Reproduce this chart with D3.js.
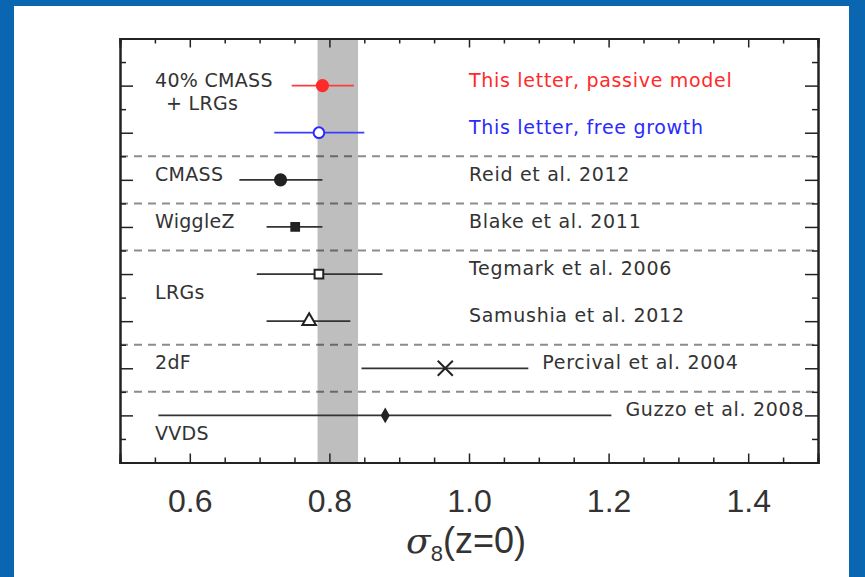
<!DOCTYPE html>
<html>
<head>
<meta charset="utf-8">
<script src="https://cdn.jsdelivr.net/npm/d3@7"></script>
<style>
  html, body { margin: 0; padding: 0; background: #0a66b0; }
  svg { display: block; }
</style>
</head>
<body>
<svg id="chart" width="865" height="577"></svg>
<script>
// ---- data ----
const rowLabels = ["This letter, passive model", "This letter, free growth", "Reid et al. 2012",
  "Blake et al. 2011", "Tegmark et al. 2006", "Samushia et al. 2012", "Percival et al. 2004", "Guzzo et al. 2008"];
const rows = [1, 2, 3, 4, 5, 6, 7, 8];
const sigma8 = [0.790, 0.785, 0.730, 0.751, 0.785, 0.771, 0.966, 0.880];
const errLow = [0.746, 0.721, 0.671, 0.710, 0.696, 0.710, 0.846, 0.555];
const errHigh = [0.835, 0.850, 0.790, 0.790, 0.876, 0.830, 1.085, 1.204];
const markerKinds = ["filledCircle", "openCircle", "filledCircle", "filledSquare", "openSquare", "openTriangle", "times", "diamond"];
const sampleNames = ["40% CMASS", "+ LRGs", "CMASS", "WiggleZ", "LRGs", "2dF", "VVDS"];
const sampleRows = [1, 1.5, 3, 4, 5.5, 7, 8.5];
const separatorRows = [2.5, 3.5, 4.5, 6.5, 7.5];
const bandRange = [0.783, 0.841];
const xTickValues = [0.6, 0.8, 1.0, 1.2, 1.4];
const xLabel = "z=0";
const labelColumn = 1.0;

// ---- styling ----
const rowColors = ["#ff2a2a", "#2a2aff", "#222", "#222", "#222", "#222", "#222", "#222"];
const lineColors = ["#ff3c3c", "#3c3cff", "#333", "#333", "#333", "#333", "#333", "#333"];
const textFont = "DejaVu Sans, sans-serif";

const svg = d3.select("#chart");
svg.append("rect").attr("x", 14).attr("y", 6).attr("width", 835).attr("height", 571).attr("fill", "#fff");

const x = d3.scaleLinear().domain([0.5, 1.5]).range([120, 818]);
const y = d3.scaleLinear().domain([0, 9]).range([38.5, 462.5]);

// gray band
svg.append("rect")
  .attr("x", x(bandRange[0])).attr("y", y(0))
  .attr("width", x(bandRange[1]) - x(bandRange[0])).attr("height", y(9) - y(0))
  .attr("fill", "#bebebe");

// separators
svg.selectAll("line.sep").data(separatorRows).join("line")
  .attr("class", "sep")
  .attr("x1", x(0.5)).attr("x2", x(1.5))
  .attr("y1", d => y(d)).attr("y2", d => y(d))
  .attr("stroke", "#000").attr("stroke-opacity", 0.45)
  .attr("stroke-width", 2).attr("stroke-dasharray", "8,6");

// axes frame with inward ticks
const xMinor = d3.range(0.55, 1.5, 0.05).filter(v => !xTickValues.some(t => Math.abs(t - v) < 1e-6));
const axisColor = "#222";
const bottom = d3.axisBottom(x).tickValues(xTickValues).tickSize(-9).tickFormat(d3.format(".1f"));
const gB = svg.append("g").attr("transform", `translate(0,${y(9)})`).call(bottom);
gB.selectAll("text").attr("dy", null).attr("y", 49)
  .attr("font-family", "Liberation Sans, Arial, sans-serif").attr("font-size", 32).attr("fill", "#333");
const gBm = svg.append("g").attr("transform", `translate(0,${y(9)})`)
  .call(d3.axisBottom(x).tickValues(xMinor).tickSize(-5).tickFormat(""));
const gT = svg.append("g").attr("transform", `translate(0,${y(0)})`)
  .call(d3.axisTop(x).tickValues(xTickValues).tickSize(-9).tickFormat(""));
const gTm = svg.append("g").attr("transform", `translate(0,${y(0)})`)
  .call(d3.axisTop(x).tickValues(xMinor).tickSize(-5).tickFormat(""));
const yMajor = d3.range(0, 10, 1);
const yMinor = d3.range(0.5, 9, 1);
const gL = svg.append("g").attr("transform", `translate(${x(0.5)},0)`)
  .call(d3.axisLeft(y).tickValues(yMajor).tickSize(-13).tickFormat(""));
const gLm = svg.append("g").attr("transform", `translate(${x(0.5)},0)`)
  .call(d3.axisLeft(y).tickValues(yMinor).tickSize(-6).tickFormat(""));
const gR = svg.append("g").attr("transform", `translate(${x(1.5)},0)`)
  .call(d3.axisRight(y).tickValues(yMajor).tickSize(-13).tickFormat(""));
const gRm = svg.append("g").attr("transform", `translate(${x(1.5)},0)`)
  .call(d3.axisRight(y).tickValues(yMinor).tickSize(-6).tickFormat(""));
[gB, gBm, gT, gTm, gL, gLm, gR, gRm].forEach(g => {
  g.select(".domain").attr("stroke", axisColor).attr("stroke-width", 2);
  g.selectAll(".tick line").attr("stroke", axisColor).attr("stroke-width", 1.5);
});

// error bars
const idx = d3.range(rows.length);
svg.selectAll("line.err").data(idx).join("line")
  .attr("class", "err")
  .attr("x1", i => x(errLow[i])).attr("x2", i => x(errHigh[i]))
  .attr("y1", i => y(rows[i])).attr("y2", i => y(rows[i]))
  .attr("stroke", i => lineColors[i]).attr("stroke-width", 1.8);

// markers
const symbolSpec = {
  filledCircle: { type: d3.symbolCircle, size: 100, fill: true },
  openCircle: { type: d3.symbolCircle, size: 90, fill: false },
  filledSquare: { type: d3.symbolSquare, size: 60, fill: true },
  openSquare: { type: d3.symbolSquare, size: 75, fill: false },
  openTriangle: { type: d3.symbolTriangle, size: 80, fill: false },
  times: { type: d3.symbolTimes, size: 150, fill: false },
  diamond: { type: d3.symbolDiamond, size: 40, fill: true }
};
svg.selectAll("path.mk").data(idx).join("path")
  .attr("class", "mk")
  .attr("transform", i => `translate(${x(sigma8[i])},${y(rows[i])})`)
  .attr("d", i => d3.symbol(symbolSpec[markerKinds[i]].type, symbolSpec[markerKinds[i]].size)())
  .attr("fill", i => symbolSpec[markerKinds[i]].fill ? rowColors[i] : "#fff")
  .attr("fill-opacity", i => markerKinds[i] === "times" ? 0 : 1)
  .attr("stroke", i => rowColors[i])
  .attr("stroke-width", 2);

// reference labels
svg.selectAll("text.ref").data(idx).join("text")
  .attr("class", "ref")
  .attr("x", i => Math.max(x(labelColumn), x(errHigh[i]) + 14))
  .attr("y", i => y(rows[i]) + 1)
  .attr("font-family", textFont).attr("font-size", 19).attr("letter-spacing", 0.7)
  .attr("fill", i => i < 2 ? rowColors[i] : "#333")
  .text(i => rowLabels[i]);

// sample labels
svg.selectAll("text.sample").data(d3.range(sampleNames.length)).join("text")
  .attr("class", "sample")
  .attr("x", i => sampleNames[i].startsWith("+") ? 166 : 155)
  .attr("y", i => y(sampleRows[i]) + 1)
  .attr("font-family", textFont).attr("font-size", 19).attr("letter-spacing", 0.3).attr("fill", "#333")
  .text(i => sampleNames[i]);

// axis title
const title = svg.append("text")
  .attr("x", x(1.0) - 3).attr("y", 553)
  .attr("text-anchor", "middle")
  .attr("font-family", "Liberation Sans, Arial, sans-serif").attr("font-size", 36).attr("fill", "#333");
title.append("tspan").attr("font-style", "italic").attr("font-family", "DejaVu Serif, serif").text("σ");
title.append("tspan").attr("font-size", 22).attr("dy", 8).text("8");
title.append("tspan").attr("dy", -8).text("(" + xLabel + ")");
</script>
</body>
</html>
